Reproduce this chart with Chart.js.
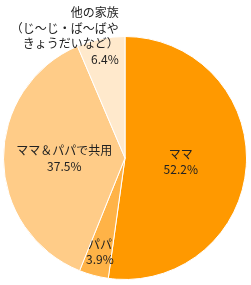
<!DOCTYPE html>
<html>
<head>
<meta charset="utf-8">
<script src="https://cdn.jsdelivr.net/npm/chart.js@4"></script>
<style>
    body { margin: 0; background: #fff; }
    #wrap { width: 251px; height: 285px; position: relative; }
</style>
</head>
<body>
<div id="wrap"><canvas id="pieChart"></canvas></div>
<script>
// Data
const categories = [['ママ'], ['パパ'], ['ママ＆パパで共用'], ['他の家族', '（じ～じ・ば～ばや', 'きょうだいなど）']];
const shares = [52.2, 3.9, 37.5, 6.4];
const sliceColors = ['#FF9900', '#FFB347', '#FFCC88', '#FFE9CC'];

// label placement: radial factor, alignment, offsets
const labelPos = [
    { r: 0.46, align: 'center', dx: 0, dy: 0 },
    { r: 0.8, align: 'center', dx: 0, dy: 0 },
    { r: 0.5, align: 'center', dx: 0, dy: 0 },
    { r: 1.0, align: 'right', dx: 18, dy: -3 }
];

// Draw slice labels
const sliceLabels = {
    id: 'sliceLabels',
    afterDatasetsDraw(chart) {
        const { ctx } = chart;
        const meta = chart.getDatasetMeta(0);
        ctx.save();
        ctx.font = '12px "Noto Sans CJK JP", sans-serif';
        ctx.fillStyle = '#222';
        ctx.textBaseline = 'middle';
        meta.data.forEach((arc, i) => {
            const mid = (arc.startAngle + arc.endAngle) / 2;
            const p = labelPos[i];
            const x = arc.x + Math.cos(mid) * arc.outerRadius * p.r + p.dx;
            const y = arc.y + Math.sin(mid) * arc.outerRadius * p.r + p.dy;
            const lines = categories[i].concat([shares[i].toFixed(1) + '%']);
            const lh = 15.5;
            const top = y - (lines.length - 1) * lh / 2;
            ctx.textAlign = p.align;
            lines.forEach((t, j) => ctx.fillText(t, x, top + j * lh));
        });
        ctx.restore();
    }
};

new Chart(document.getElementById('pieChart'), {
    type: 'pie',
    data: {
        labels: categories.map(c => c.join('')),
        datasets: [{
            data: shares,
            backgroundColor: sliceColors,
            borderColor: '#fff',
            borderWidth: 1
        }]
    },
    options: {
        responsive: true,
        maintainAspectRatio: false,
        animation: false,
        layout: { padding: { top: 36, bottom: 5, left: 3, right: 4 } },
        plugins: {
            legend: { display: false },
            tooltip: { enabled: false }
        }
    },
    plugins: [sliceLabels]
});
</script>
</body>
</html>
